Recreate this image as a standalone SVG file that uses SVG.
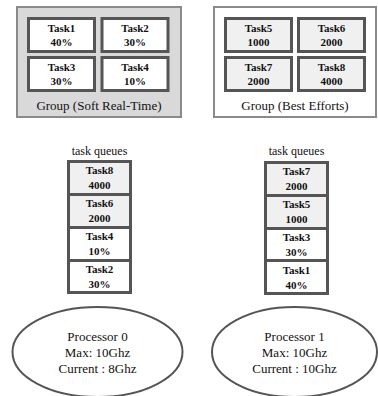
<svg xmlns="http://www.w3.org/2000/svg" width="378" height="396" viewBox="0 0 378 396">
<style>
.grp{stroke:#8a8a8a;stroke-width:2}
.tb{stroke:#555;stroke-width:3}
.w{fill:#fff}
.g{fill:#f0f0f0}
.t{font-family:"Liberation Serif",serif;font-size:11px;font-weight:bold;fill:#111;text-anchor:middle}
.l{font-family:"Liberation Serif",serif;font-size:13px;fill:#111;text-anchor:middle}
.q{font-family:"Liberation Serif",serif;font-size:12px;fill:#111;text-anchor:middle}
.el{fill:#fff;stroke:#555;stroke-width:2}
</style>
<rect width="378" height="396" fill="#fff"/>
<g id="group-soft">
<rect class="grp" x="17" y="7" width="164" height="110" fill="#d9d9d9"/>
<text class="l" x="99" y="110">Group (Soft Real-Time)</text>
</g>
<g id="task1"><rect class="tb w" x="28.5" y="18.5" width="66" height="33"/><text class="t" x="61.5" y="32">Task1</text><text class="t" x="61.5" y="45.5">40%</text></g>
<g id="task2"><rect class="tb w" x="102" y="18.5" width="66" height="33"/><text class="t" x="135" y="32">Task2</text><text class="t" x="135" y="45.5">30%</text></g>
<g id="task3"><rect class="tb w" x="28.5" y="57.5" width="66" height="33"/><text class="t" x="61.5" y="71">Task3</text><text class="t" x="61.5" y="84.5">30%</text></g>
<g id="task4"><rect class="tb w" x="102" y="57.5" width="66" height="33"/><text class="t" x="135" y="71">Task4</text><text class="t" x="135" y="84.5">10%</text></g>
<g id="group-best">
<rect class="grp" x="214" y="7" width="162" height="110" fill="#fff"/>
<text class="l" x="295" y="110">Group (Best Efforts)</text>
</g>
<g id="task5"><rect class="tb g" x="225.5" y="18.5" width="66" height="33"/><text class="t" x="258.5" y="32">Task5</text><text class="t" x="258.5" y="45.5">1000</text></g>
<g id="task6"><rect class="tb g" x="298.5" y="18.5" width="66" height="33"/><text class="t" x="331.5" y="32">Task6</text><text class="t" x="331.5" y="45.5">2000</text></g>
<g id="task7"><rect class="tb g" x="225.5" y="57.5" width="66" height="33"/><text class="t" x="258.5" y="71">Task7</text><text class="t" x="258.5" y="84.5">2000</text></g>
<g id="task8"><rect class="tb g" x="298.5" y="57.5" width="66" height="33"/><text class="t" x="331.5" y="71">Task8</text><text class="t" x="331.5" y="84.5">4000</text></g>
<g id="queue0">
<text class="q" x="99.5" y="155">task queues</text>
<rect class="tb g" x="68.5" y="161.5" width="62" height="33"/><text class="t" x="99.5" y="174">Task8</text><text class="t" x="99.5" y="189">4000</text>
<rect class="tb g" x="68.5" y="194.5" width="62" height="33"/><text class="t" x="99.5" y="207">Task6</text><text class="t" x="99.5" y="222">2000</text>
<rect class="tb w" x="68.5" y="227.5" width="62" height="33"/><text class="t" x="99.5" y="240">Task4</text><text class="t" x="99.5" y="255">10%</text>
<rect class="tb w" x="68.5" y="260.5" width="62" height="32"/><text class="t" x="99.5" y="273">Task2</text><text class="t" x="99.5" y="288">30%</text>
</g>
<g id="queue1">
<text class="q" x="296.5" y="155">task queues</text>
<rect class="tb g" x="265.5" y="162.5" width="62" height="33"/><text class="t" x="296.5" y="175">Task7</text><text class="t" x="296.5" y="190">2000</text>
<rect class="tb g" x="265.5" y="195.5" width="62" height="33"/><text class="t" x="296.5" y="208">Task5</text><text class="t" x="296.5" y="223">1000</text>
<rect class="tb w" x="265.5" y="228.5" width="62" height="32"/><text class="t" x="296.5" y="241">Task3</text><text class="t" x="296.5" y="256">30%</text>
<rect class="tb w" x="265.5" y="260.5" width="62" height="33"/><text class="t" x="296.5" y="274">Task1</text><text class="t" x="296.5" y="289">40%</text>
</g>
<g id="processor0">
<ellipse class="el" cx="97.5" cy="352" rx="85" ry="45"/>
<text class="l" x="97.5" y="341">Processor 0</text>
<text class="l" x="97.5" y="357">Max: 10Ghz</text>
<text class="l" x="97.5" y="373">Current : 8Ghz</text>
</g>
<g id="processor1">
<ellipse class="el" cx="294.5" cy="352" rx="82.5" ry="45"/>
<text class="l" x="294.5" y="341">Processor 1</text>
<text class="l" x="294.5" y="357">Max: 10Ghz</text>
<text class="l" x="294.5" y="373">Current : 10Ghz</text>
</g>
<g id="connectors"></g>
</svg>
